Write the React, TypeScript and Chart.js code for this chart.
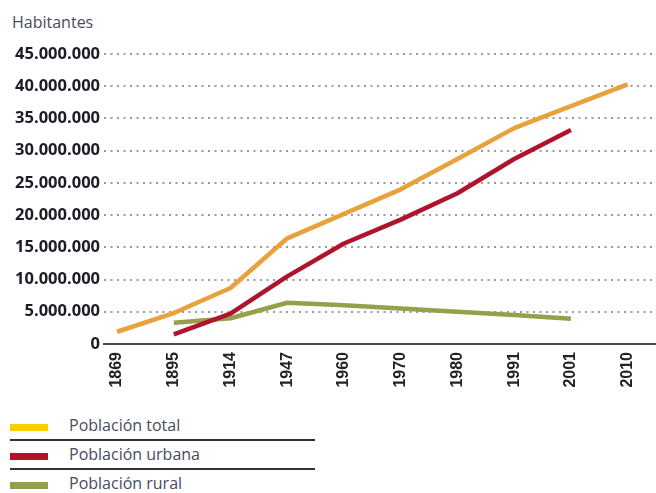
import React, { useEffect, useRef } from "react";
import { Chart, registerables } from "chart.js";

Chart.register(...registerables);

const years = ["1869", "1895", "1914", "1947", "1960", "1970", "1980", "1991", "2001", "2010"];
const total = [1.9, 4.8, 8.7, 16.4, 20.2, 24.0, 28.7, 33.5, 36.9, 40.3];
const urbana = [null, 1.5, 4.7, 10.5, 15.6, 19.3, 23.4, 28.7, 33.2, null];
const rural = [null, 3.3, 4.0, 6.4, 6.0, 5.5, 5.0, 4.5, 3.9, null];
const yTicks = [0, 5, 10, 15, 20, 25, 30, 35, 40, 45];

const series = [
  { label: "Población total", data: total, line: "#E9A23B", swatch: "#FFCC00" },
  { label: "Población urbana", data: urbana, line: "#B0132E", swatch: "#B0132E" },
  { label: "Población rural", data: rural, line: "#96A04A", swatch: "#96A04A" },
];

const fmt = (v: number) =>
  v === 0 ? "0" : Math.round(v * 1000000).toString().replace(/\B(?=(\d{3})+(?!\d))/g, ".");

export default function App() {
  const ref = useRef<HTMLCanvasElement | null>(null);

  useEffect(() => {
    if (!ref.current) return;
    const chart = new Chart(ref.current, {
      type: "line",
      data: {
        datasets: series.map((s) => ({
          label: s.label,
          data: s.data
            .map((v, i) => (v === null ? null : { x: i, y: v }))
            .filter((p) => p !== null) as any,
          borderColor: s.line,
          backgroundColor: s.line,
          borderWidth: 4.5,
          pointRadius: 0,
          tension: 0,
          borderCapStyle: "butt",
          borderJoinStyle: "round",
        })),
      },
      options: {
        animation: false,
        responsive: false,
        maintainAspectRatio: false,
        layout: { padding: { top: 54, right: 0, left: 0, bottom: 0 } },
        plugins: { legend: { display: false }, tooltip: { enabled: false } },
        scales: {
          x: {
            type: "linear",
            min: -0.23,
            max: 9.5,
            bounds: "data",
            afterFit: (scale: any) => {
              scale.height = 56;
            },
            afterBuildTicks: (scale: any) => {
              scale.ticks = years.map((_, i) => ({ value: i }));
            },
            ticks: {
              stepSize: 1,
              includeBounds: false,
              autoSkip: false,
              minRotation: 90,
              maxRotation: 90,
              padding: 8,
              color: "#222222",
              font: { family: "Liberation Sans", weight: "bold", size: 16 },
              callback: (v: any) => {
                const i = Math.round(Number(v));
                return Math.abs(Number(v) - i) < 1e-6 && years[i] ? years[i] : "";
              },
            },
            grid: { display: false, drawTicks: false },
            border: { display: true, color: "#4a4a4a", width: 2 },
          },
          y: {
            min: 0,
            max: 45,
            afterFit: (scale: any) => {
              scale.width = 104;
            },
            afterBuildTicks: (scale: any) => {
              scale.ticks = yTicks.map((v) => ({ value: v }));
            },
            ticks: {
              padding: 4,
              color: "#1c1c26",
              font: { family: "Open Sans", weight: "bold", size: 16.5 },
              callback: (v: any) => fmt(Number(v)),
            },
            grid: {
              drawTicks: false,
              tickLength: 0,
              lineWidth: 2,
              color: (ctx: any) => (ctx.tick && ctx.tick.value === 0 ? "rgba(0,0,0,0)" : "#9a9a9a"),
            },
            border: { display: false, dash: [2, 4.5] },
          },
        },
      },
    });
    return () => chart.destroy();
  }, []);

  const textStyle: React.CSSProperties = {
    fontFamily: "Open Sans",
    fontSize: 16,
    color: "#474c5e",
  };

  return (
    <div style={{ position: "absolute", left: 0, top: 0, width: 656, height: 493, background: "#fff", overflow: "hidden" }}>
      <div style={{ ...textStyle, position: "absolute", left: 12, top: 10, lineHeight: "24px" }}>Habitantes</div>
      <canvas ref={ref} width={656} height={400} style={{ position: "absolute", left: 0, top: 0, width: 656, height: 400 }} />
      {series.map((s, i) => (
        <div key={s.label}>
          <div
            style={{
              position: "absolute",
              left: 10,
              top: 424 + i * 29,
              width: 38,
              height: 7,
              background: s.swatch,
            }}
          />
          <div
            style={{
              ...textStyle,
              position: "absolute",
              left: 69,
              top: 413 + i * 29,
              lineHeight: "24px",
              whiteSpace: "nowrap",
            }}
          >
            {s.label}
          </div>
          {i < 2 && (
            <div
              style={{
                position: "absolute",
                left: 10,
                top: 439 + i * 29,
                width: 305,
                height: 2,
                background: "#333",
              }}
            />
          )}
        </div>
      ))}
    </div>
  );
}
